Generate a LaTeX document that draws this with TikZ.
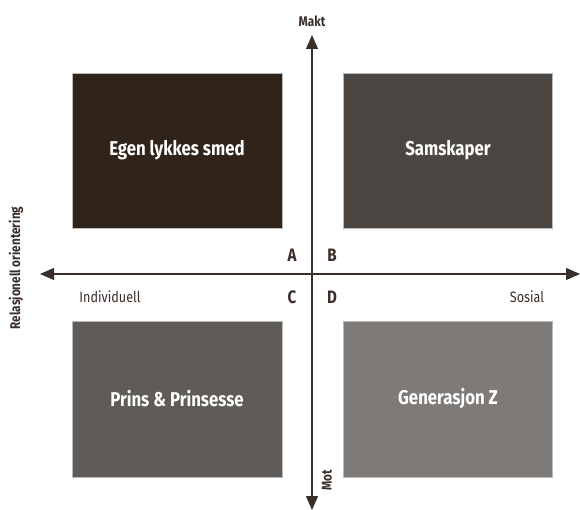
\documentclass[tikz,border=0pt]{standalone}
\usepackage{fontspec}
\setmainfont{Fira Sans}
\newfontfamily\cond[FakeStretch=0.84]{Fira Sans}
\usetikzlibrary{arrows.meta}
\definecolor{cA}{HTML}{2F231A}
\definecolor{cB}{HTML}{4B4641}
\definecolor{cC}{HTML}{5F5C58}
\definecolor{cD}{HTML}{7D7A77}
\definecolor{ink}{HTML}{3A2E28}
\begin{document}
\begin{tikzpicture}[x=1pt,y=-1pt,
  quad/.style={draw=gray!55,line width=0.6pt,text=white,inner sep=0pt,
    font=\cond\bfseries\fontsize{20}{24}\selectfont},
  axis/.style={draw=ink,line width=1.1pt,{Triangle[width=12pt,length=14pt]}-{Triangle[width=12pt,length=14pt]}},
  lbl/.style={text=ink,inner sep=0pt,font=\cond\fontsize{15}{18}\selectfont},
  blbl/.style={text=ink,inner sep=0pt,font=\cond\bfseries\fontsize{14}{17}\selectfont},
  letter/.style={text=ink,inner sep=0pt,font=\cond\bfseries\fontsize{18}{21}\selectfont}]
\useasboundingbox (0,0) rectangle (580,510);
\node[quad,fill=cA,minimum width=210pt,minimum height=155pt] (egen) at (177,150.5) {Egen lykkes smed};
\node[quad,fill=cB,minimum width=209pt,minimum height=155pt] (sam) at (448,150.5) {Samskaper};
\node[quad,fill=cC,minimum width=210pt,minimum height=156pt] (prins) at (177,399) {Prins \& Prinsesse};
\node[quad,fill=cD,minimum width=209pt,minimum height=156pt] (gen) at (448,399) {Generasjon Z};
\coordinate (top) at (312,35);
\coordinate (bot) at (312,510);
\coordinate (left) at (40,274);
\coordinate (right) at (580,274);
\draw[axis] (bot) -- (top);
\draw[axis] (left) -- (right);
\node[blbl] (makt) at (312,21) {Makt};
\node[blbl,rotate=90] (mot) at (327,480) {Mot};
\node[blbl,rotate=90] (rel) at (16,268) {Relasjonell orientering};
\node[lbl] (ind) at (110,297) {Individuell};
\node[lbl] (sos) at (527,297) {Sosial};
\node[letter] (A) at (292,255) {A};
\node[letter] (B) at (332,255) {B};
\node[letter] (C) at (292,297) {C};
\node[letter] (D) at (332,297) {D};
\end{tikzpicture}
\end{document}
